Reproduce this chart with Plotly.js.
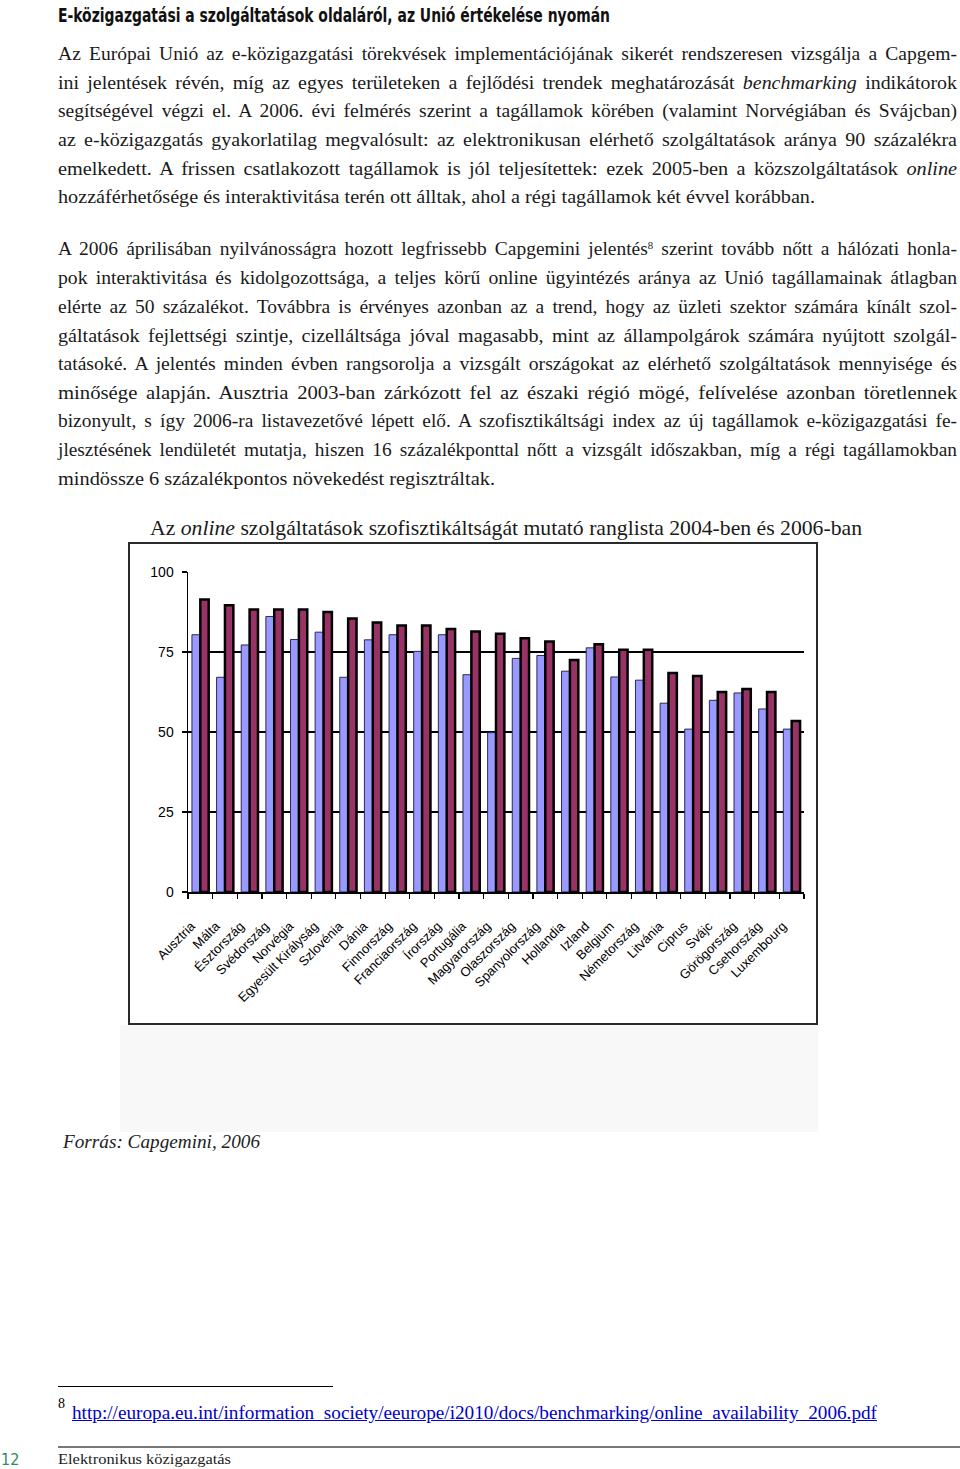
<!DOCTYPE html>
<html><head><meta charset="utf-8">
<script src="https://cdn.plot.ly/plotly-3.0.1.min.js"></script>
<style>
html,body{margin:0;padding:0;background:#fff;}
body{width:960px;height:1469px;position:relative;overflow:hidden;font-family:"Liberation Serif","Times New Roman",serif;color:#1a1a1a;}
.ln{position:absolute;left:58px;height:28px;line-height:28px;font-size:18px;white-space:nowrap;}
.ln span.t{display:inline-block;white-space:nowrap;transform-origin:0 50%;}
sup{font-size:10px;line-height:0;vertical-align:6px;}
#head{position:absolute;left:58px;top:1px;height:28px;line-height:28px;font-family:"DejaVu Sans Condensed","DejaVu Sans",sans-serif;font-stretch:condensed;font-weight:bold;font-size:19px;color:#111;white-space:nowrap;transform-origin:0 50%;}
#ctitle{position:absolute;left:150px;top:514px;height:28px;line-height:28px;font-size:21px;white-space:nowrap;transform-origin:0 50%;color:#1a1a1a;}
#shade{position:absolute;left:120px;top:1025px;width:698px;height:107px;background:#f8f8f8;}
#frame{position:absolute;left:128px;top:542px;width:686px;height:479px;border:2px solid #2a2a2a;background:#fff;}
#chart{position:absolute;left:129px;top:543px;width:689px;height:482px;}
#src{position:absolute;left:63px;top:1128px;line-height:28px;font-size:18px;font-style:italic;color:#222;white-space:nowrap;transform-origin:0 50%;}
#fnrule{position:absolute;left:58px;top:1386px;width:275px;height:1px;background:#000;}
#fn8{position:absolute;left:58px;top:1397px;font-size:14px;line-height:14px;color:#000;font-family:"Liberation Serif",serif;}
#url{position:absolute;left:72px;top:1400px;line-height:26px;font-size:18px;color:#0000cc;text-decoration:underline;white-space:nowrap;transform-origin:0 50%;}
#brule{position:absolute;left:58px;top:1446px;width:902px;height:2px;background:#777;}
#pg{position:absolute;left:1px;top:1450px;line-height:20px;font-size:16px;font-family:"DejaVu Sans Condensed","DejaVu Sans",sans-serif;color:#2f8a5f;}
#foot{position:absolute;left:58px;top:1449px;line-height:20px;font-size:15px;color:#222;white-space:nowrap;transform-origin:0 50%;}
</style></head>
<body>
<div id="head" data-w="552">E-közigazgatási a szolgáltatások oldaláról, az Unió értékelése nyomán</div>
<div id="text"></div>
<div id="ctitle" data-w="712">Az <i>online</i> szolgáltatások szofisztikáltságát mutató ranglista 2004-ben és 2006-ban</div>
<div id="shade"></div>
<div id="frame"></div>
<div id="chart"></div>
<div id="src" data-w="197">Forrás: Capgemini, 2006</div>
<div id="fnrule"></div>
<div id="fn8">8</div>
<div id="url" data-w="805">http://europa.eu.int/information_society/eeurope/i2010/docs/benchmarking/online_availability_2006.pdf</div>
<div id="brule"></div>
<div id="pg">12</div>
<div id="foot" data-w="173">Elektronikus közigazgatás</div>
<script>
// ---- chart data ----
const countries = ["Ausztria","Málta","Észtország","Svédország","Norvégia","Egyesült Királyság","Szlovénia","Dánia","Finnország","Franciaország","Írország","Portugália","Magyarország","Olaszország","Spanyolország","Hollandia","Izland","Belgium","Németország","Litvánia","Ciprus","Svájc","Görögország","Csehország","Luxembourg"];
const values2004 = [80.4,67.1,77.2,86.1,78.9,81.2,67.1,78.8,80.4,75.2,80.4,67.9,49.8,73.0,73.9,69.0,76.3,67.2,66.2,59.0,50.9,59.9,62.2,57.2,50.9];
const values2006 = [91.4,89.6,88.3,88.3,88.3,87.5,85.5,84.2,83.3,83.3,82.2,81.4,80.7,79.3,78.3,72.5,77.4,75.7,75.7,68.4,67.5,62.5,63.4,62.5,53.4];
const seriesNames = ["2004","2006"];
const yTicks = [0,25,50,75,100];

// ---- page text lines ----
const para1 = [
 "Az Európai Unió az e-közigazgatási törekvések implementációjának sikerét rendszeresen vizsgálja a Capgem-",
 "ini jelentések révén, míg az egyes területeken a fejlődési trendek meghatározását <i>benchmarking</i> indikátorok",
 "segítségével végzi el. A 2006. évi felmérés szerint a tagállamok körében (valamint Norvégiában és Svájcban)",
 "az e-közigazgatás gyakorlatilag megvalósult: az elektronikusan elérhető szolgáltatások aránya 90 százalékra",
 "emelkedett. A frissen csatlakozott tagállamok is jól teljesítettek: ezek 2005-ben a közszolgáltatások <i>online</i>",
 "hozzáférhetősége és interaktivitása terén ott álltak, ahol a régi tagállamok két évvel korábban."
];
const para2 = [
 "A 2006 áprilisában nyilvánosságra hozott legfrissebb Capgemini jelentés<sup>8</sup> szerint tovább nőtt a hálózati honla-",
 "pok interaktivitása és kidolgozottsága, a teljes körű online ügyintézés aránya az Unió tagállamainak átlagban",
 "elérte az 50 százalékot. Továbbra is érvényes azonban az a trend, hogy az üzleti szektor számára kínált szol-",
 "gáltatások fejlettségi szintje, cizelláltsága jóval magasabb, mint az állampolgárok számára nyújtott szolgál-",
 "tatásoké. A jelentés minden évben rangsorolja a vizsgált országokat az elérhető szolgáltatások mennyisége és",
 "minősége alapján. Ausztria 2003-ban zárkózott fel az északi régió mögé, felívelése azonban töretlennek",
 "bizonyult, s így 2006-ra listavezetővé lépett elő. A szofisztikáltsági index az új tagállamok e-közigazgatási fe-",
 "jlesztésének lendületét mutatja, hiszen 16 százalékponttal nőtt a vizsgált időszakban, míg a régi tagállamokban",
 "mindössze 6 százalékpontos növekedést regisztráltak."
];
const p1y = [54,83,111,140,169,197];
const p2y = [249,278,307,336,364,393,421,450,479];
const fullW = 899;

const textDiv = document.getElementById('text');
function addPara(lines, ys, lastW){
  lines.forEach((s,i)=>{
    const d = document.createElement('div');
    d.className='ln';
    d.style.top = (ys[i]-14)+'px';
    const sp = document.createElement('span');
    sp.className='t';
    sp.innerHTML = s;
    d.appendChild(sp);
    textDiv.appendChild(d);
    const last = i===lines.length-1;
    const W = last ? lastW : fullW;
    let w = sp.getBoundingClientRect().width;
    // mild word-spacing first, then stretch glyphs to exact width
    if(!last){
      const n = (sp.textContent.match(/ /g)||[]).length;
      const target = W/1.06;
      if(w < target && n>0){
        sp.style.wordSpacing = Math.min(3,(target-w)/n)+'px';
        w = sp.getBoundingClientRect().width;
      }
    }
    sp.style.transform = 'scaleX('+(W/w)+')';
  });
}
addPara(para1,p1y,757);
addPara(para2,p2y,437);

document.querySelectorAll('[data-w]').forEach(el=>{
  const W = +el.getAttribute('data-w');
  el.style.display='inline-block';
  const w = el.getBoundingClientRect().width;
  el.style.transform='scaleX('+(W/w)+')';
});

// ---- chart ----
const traces = [
 {type:'bar', name:seriesNames[0], x:countries, y:values2004,
  marker:{color:'#9999ff', line:{color:'#2a2a55', width:1}}},
 {type:'bar', name:seriesNames[1], x:countries, y:values2006,
  marker:{color:'#993366', line:{color:'#000000', width:2.5}}}
];
const layout = {
  width:689, height:482,
  margin:{l:59, r:14, t:29, b:133, pad:0},
  paper_bgcolor:'rgba(0,0,0,0)', plot_bgcolor:'#ffffff',
  showlegend:false,
  barmode:'group', bargap:0.32, bargroupgap:0,
  font:{family:'"Liberation Sans", Arial, sans-serif', color:'#000'},
  xaxis:{type:'category', range:[-0.5,24.5], tickangle:-45,
    tickfont:{size:13, color:'#000'}, ticks:'outside', ticklen:5, tickwidth:1.2, tickcolor:'#000',
    tickson:'boundaries', showline:true, linecolor:'#000', linewidth:1.5, showgrid:false,
    ticklabelstandoff:20, ticklabelshift:-9, automargin:false},
  yaxis:{range:[0,100], tickvals:yTicks, ticktext:yTicks.map(String),
    tickfont:{size:14, color:'#000'}, ticks:'outside', ticklen:5, tickwidth:1.2, tickcolor:'#000',
    showgrid:true, gridcolor:'#000', gridwidth:1.5, showline:true, linecolor:'#000', linewidth:1.5,
    zeroline:false, ticklabelstandoff:5, automargin:false}
};
Plotly.newPlot('chart', traces, layout, {staticPlot:true, displayModeBar:false});
</script>
</body></html>
